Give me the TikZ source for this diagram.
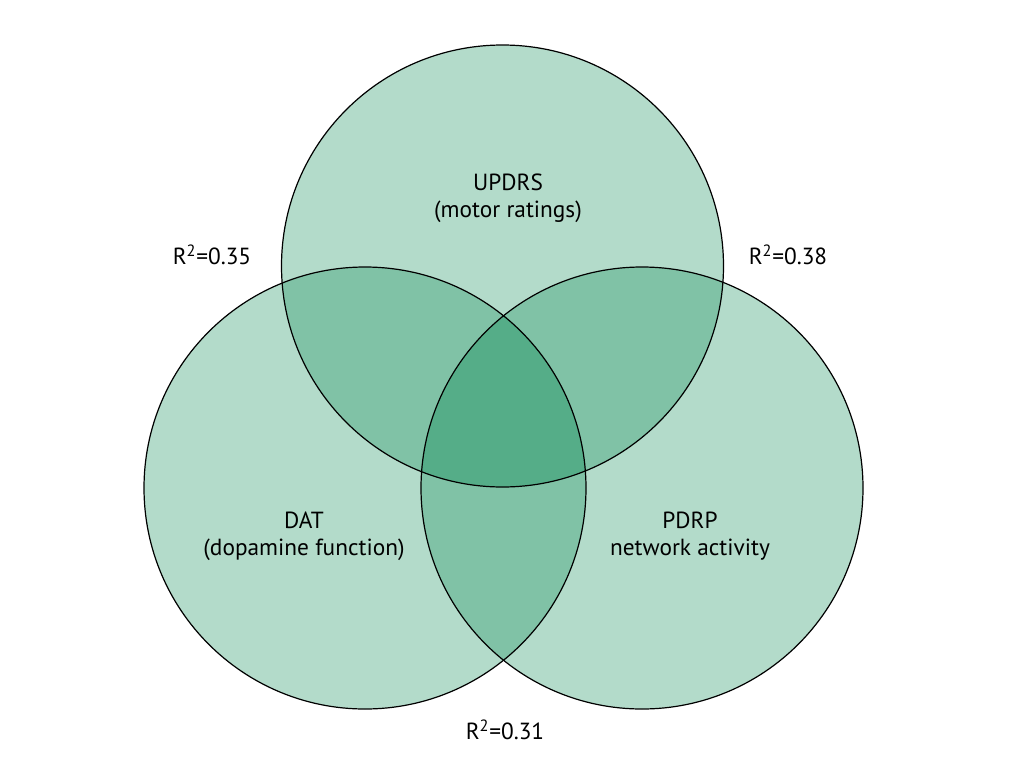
\documentclass[tikz,border=0pt]{standalone}
\usepackage{fontspec}
\setmainfont{PT Sans}
\definecolor{lightg}{HTML}{B3DBCA}
\definecolor{midg}{HTML}{80C2A6}
\definecolor{darkg}{HTML}{55AD88}
\begin{document}
\begin{tikzpicture}[x=0.75pt,y=-0.75pt,
  lbl/.style={font=\fontsize{17.5}{20.5}\selectfont, align=center, text=black, inner sep=0pt},
  ring/.style={draw=black, line width=0.9pt}]
\useasboundingbox (0,0) rectangle (1024,768);
\def\rad{221}
\coordinate (T) at (502.5,266);
\coordinate (L) at (365,488);
\coordinate (R) at (642,488);
% single fills
\fill[lightg] (T) circle[radius=\rad];
\fill[lightg] (L) circle[radius=\rad];
\fill[lightg] (R) circle[radius=\rad];
% pairwise
\begin{scope}\clip (T) circle[radius=\rad]; \fill[midg] (L) circle[radius=\rad]; \end{scope}
\begin{scope}\clip (T) circle[radius=\rad]; \fill[midg] (R) circle[radius=\rad]; \end{scope}
\begin{scope}\clip (L) circle[radius=\rad]; \fill[midg] (R) circle[radius=\rad]; \end{scope}
% triple
\begin{scope}\clip (T) circle[radius=\rad]; \clip (L) circle[radius=\rad]; \fill[darkg] (R) circle[radius=\rad]; \end{scope}
% outlines
\draw[ring] (T) circle[radius=\rad];
\draw[ring] (L) circle[radius=\rad];
\draw[ring] (R) circle[radius=\rad];
% labels
\node[lbl] (updrs) at (508,198) {UPDRS\\(motor ratings)};
\node[lbl] (dat) at (304,536) {DAT\\(dopamine function)};
\node[lbl] (pdrp) at (690,536) {PDRP\\network activity};
\node[lbl] (r35) at (212,255) {R\textsuperscript{2}=0.35};
\node[lbl] (r38) at (788,255) {R\textsuperscript{2}=0.38};
\node[lbl] (r31) at (505,730) {R\textsuperscript{2}=0.31};
\end{tikzpicture}
\end{document}
